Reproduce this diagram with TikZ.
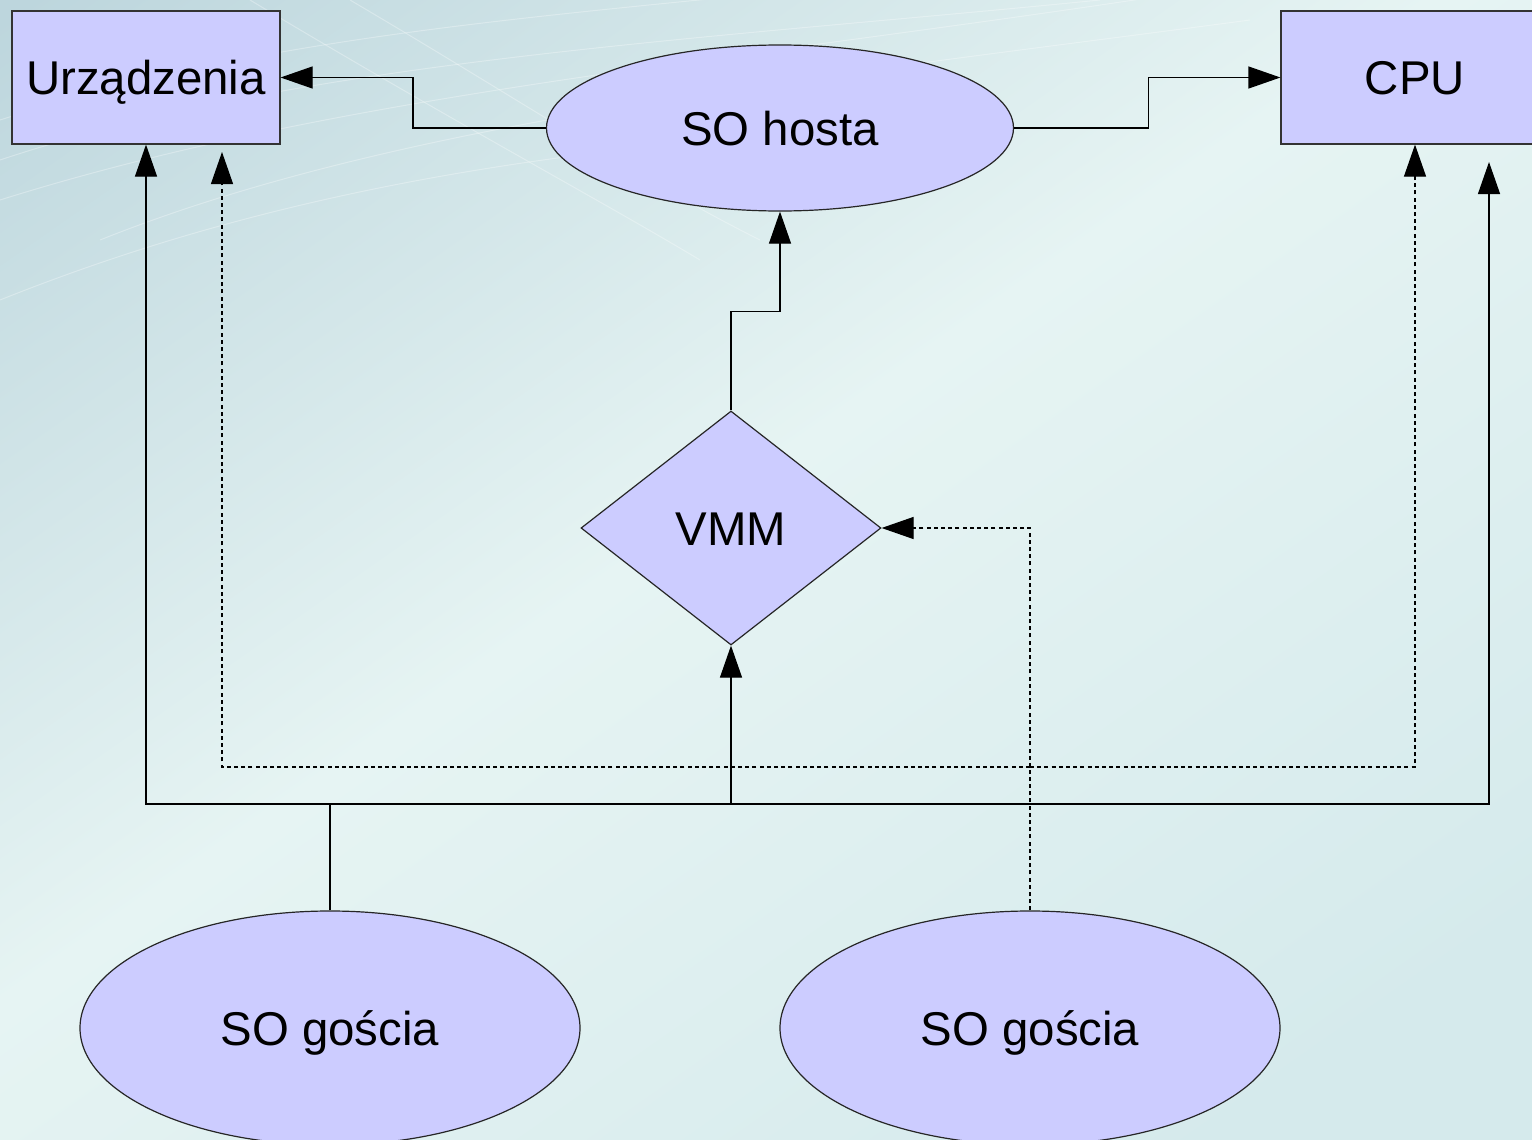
\documentclass[tikz,border=0pt]{standalone}
\usepackage{fontspec}
\setmainfont{Liberation Sans}
\usetikzlibrary{shapes.geometric,arrows.meta}
\definecolor{nodefill}{HTML}{CCCCFF}
\definecolor{bgA}{HTML}{BDD6DD}
\definecolor{bgB}{HTML}{E6F4F3}
\definecolor{bgC}{HTML}{D5EAEC}
\begin{document}
\begin{tikzpicture}[x=0.5pt,y=-0.5pt,
  lbl/.style={font=\fontsize{23.7}{28}\selectfont, text=black, text height=17pt, text depth=0pt},
  box/.style={lbl, draw=black!80, line width=0.6pt, fill=nodefill, rectangle, inner sep=0pt, minimum width=134pt, minimum height=66.5pt},
  oval/.style={lbl, draw=black!85, line width=0.6pt, fill=nodefill, ellipse, inner sep=0pt},
  dmd/.style={lbl, draw=black!85, line width=0.6pt, fill=nodefill, diamond, inner sep=0pt, minimum width=150pt, minimum height=117pt},
  conn/.style={draw=black, line width=0.6pt},
  arr/.style={conn, -{Triangle[length=16pt,width=11pt]}},
  dconn/.style={conn, dash pattern=on 2pt off 1.6pt},
  darr/.style={dconn, -{Triangle[length=16pt,width=11pt]}}
]
\useasboundingbox (0,0) rectangle (1532,1140);
\clip (0,0) rectangle (1532,1140);
% background
\shade[shading=axis, left color=bgA, right color=bgC, middle color=bgB, shading angle=35] (-100,-300) rectangle (1632,1240);
\begin{scope}[white, opacity=0.3, line width=0.5pt]
  \draw (0,160) .. controls (300,60) and (700,40) .. (1100,0);
  \draw (0,200) .. controls (350,90) and (750,60) .. (1200,-10);
  \draw (100,240) .. controls (400,120) and (800,80) .. (1250,20);
  \draw (0,120) .. controls (250,40) and (500,20) .. (800,-10);
  \draw (250,0) .. controls (450,120) and (600,200) .. (700,260);
  \draw (350,0) .. controls (520,100) and (640,180) .. (760,240);
  \draw (0,300) .. controls (300,180) and (600,140) .. (1000,120);
\end{scope}

% nodes
\node[box] (dev) at (146,77.5) {Urządzenia};
\node[box] (cpu) at (1415,77.5) {CPU};
\node[oval, minimum width=233.5pt, minimum height=83pt] (host) at (780,128) {SO hosta};
\node[dmd] (vmm) at (731,528) {VMM};
\node[oval, minimum width=250pt, minimum height=117pt] (g1) at (330,1028) {SO gościa};
\node[oval, minimum width=250pt, minimum height=117pt] (g2) at (1030,1028) {SO gościa};

% connectors
\draw[arr] (host.west) -- ++(-133,0) |- (dev.east);
\draw[arr] (host.east) -- ++(134,0) |- (cpu.west);
\draw[arr] (vmm.north) -- ++(0,-99) -| (host.south);

\coordinate (j1) at (330,804);
\coordinate (cpuR) at (1489,162);
\draw[conn] (g1.north) -- (j1);
\draw[arr] (j1) -| (dev.south);
\draw[arr] (j1) -| (vmm.south);
\draw[arr] (j1) -| (cpuR);

\coordinate (j2) at (1030,767);
\coordinate (devR) at (222,152);
\draw[dconn] (g2.north) -- (j2);
\draw[darr] (j2) |- (vmm.east);
\draw[darr] (j2) -| (devR);
\draw[darr] (j2) -| (cpu.south);
\end{tikzpicture}
\end{document}
